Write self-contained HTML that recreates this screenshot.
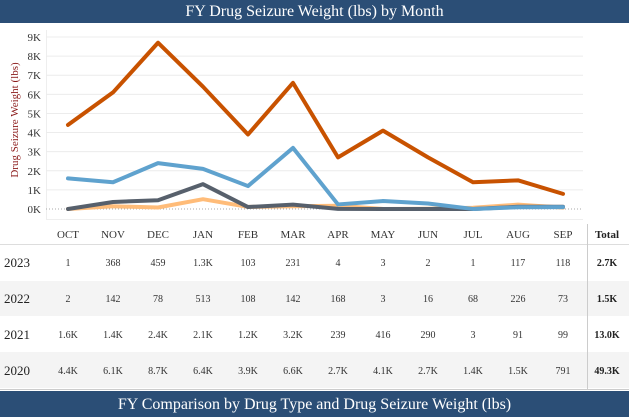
<!DOCTYPE html>
<html><head><meta charset="utf-8"><style>
body{margin:0;width:629px;height:417px;overflow:hidden;background:#fff;font-family:"Liberation Serif",serif;}
.bar{position:absolute;left:0;width:629px;background:#2b4e76;color:#fff;text-align:center;font-size:16px;}
</style></head><body>
<div class="bar" style="top:0;height:23px;line-height:23px;">FY Drug Seizure Weight (lbs) by Month</div>
<svg id="c" width="629" height="417" style="position:absolute;left:0;top:0"></svg>
<div class="bar" style="top:391px;height:26px;line-height:28px;">FY Comparison by Drug Type and Drug Seizure Weight (lbs)</div>
<script>
const months=["OCT","NOV","DEC","JAN","FEB","MAR","APR","MAY","JUN","JUL","AUG","SEP"];
const years=["2023","2022","2021","2020"];
const v2023=[1,368,459,1300,103,231,4,3,2,1,117,118];
const v2022=[2,142,78,513,108,142,168,3,16,68,226,73];
const v2021=[1600,1400,2400,2100,1200,3200,239,416,290,3,91,99];
const v2020=[4400,6100,8700,6400,3900,6600,2700,4100,2700,1400,1500,791];
const labels2023=["1","368","459","1.3K","103","231","4","3","2","1","117","118"];
const labels2022=["2","142","78","513","108","142","168","3","16","68","226","73"];
const labels2021=["1.6K","1.4K","2.4K","2.1K","1.2K","3.2K","239","416","290","3","91","99"];
const labels2020=["4.4K","6.1K","8.7K","6.4K","3.9K","6.6K","2.7K","4.1K","2.7K","1.4K","1.5K","791"];
const totals=["2.7K","1.5K","13.0K","49.3K"];
const yTicks=[0,1000,2000,3000,4000,5000,6000,7000,8000,9000];
const svg=document.getElementById('c');const NS="http://www.w3.org/2000/svg";
const x=i=>68+i*45, y=v=>209-v*(172/9000);
function el(t,a,p){const e=document.createElementNS(NS,t);for(const k in a)e.setAttribute(k,a[k]);(p||svg).appendChild(e);return e;}
// shaded rows
[[281,316],[352,388]].forEach((r,i)=>{const e=el('rect',{x:0,y:r[0],width:629,height:r[1]-r[0],fill:'#f4f4f4'});

});
el('line',{x1:0,x2:629,y1:244.5,y2:244.5,stroke:'#ddd'});
el('line',{x1:0,x2:629,y1:389.5,y2:389.5,stroke:'#ccc'});
el('line',{x1:587.5,x2:587.5,y1:224,y2:389,stroke:'#ccc'});
el('line',{x1:46.5,x2:46.5,y1:30,y2:220,stroke:'#eee'});
el('line',{x1:46,x2:583,y1:219.5,y2:219.5,stroke:'#eee'});
yTicks.forEach(t=>{
 if(t>0)el('line',{x1:46,x2:583,y1:y(t),y2:y(t),stroke:'#ececec'});
 else el('line',{x1:46,x2:583,y1:y(t),y2:y(t),stroke:'#aaa','stroke-dasharray':'1,2'});
 const tx=el('text',{x:41,y:y(t)+4,'text-anchor':'end','font-size':11,fill:'#333'});tx.textContent=(t/1000)+'K';
 
 
});
const yt=el('text',{transform:'translate(18,120) rotate(-90)','text-anchor':'middle','font-size':11,fill:'#8b1a1a'});yt.textContent='Drug Seizure Weight (lbs)';


const series=[[v2022,'#ffbc79','line-2022'],[v2023,'#57606c','line-2023'],[v2021,'#5fa2ce','line-2021'],[v2020,'#c85200','line-2020']];
series.forEach(s=>{const p=el('polyline',{points:s[0].map((v,i)=>x(i)+','+y(v)).join(' '),fill:'none',stroke:s[1],'stroke-width':4,'stroke-linejoin':'round','stroke-linecap':'round'});

});
months.forEach((m,i)=>{const t=el('text',{x:x(i),y:238,'text-anchor':'middle','font-size':11,fill:'#333'});t.textContent=m;

});
const th=el('text',{x:607,y:238,'text-anchor':'middle','font-size':11,'font-weight':'bold',fill:'#222'});th.textContent='Total';


const rowsL=[labels2023,labels2022,labels2021,labels2020];const rowY=[266,302,338,374];
rowsL.forEach((L,r)=>{
 const yl=el('text',{x:4,y:rowY[r]+1,'font-size':13,fill:'#222'});yl.textContent=years[r];
 
 
 L.forEach((s,i)=>{const t=el('text',{x:x(i),y:rowY[r],'text-anchor':'middle','font-size':10,fill:'#333'});t.textContent=s;
 
 });
 const tt=el('text',{x:607,y:rowY[r],'text-anchor':'middle','font-size':10,'font-weight':'bold',fill:'#222'});tt.textContent=totals[r];
 
 
});
</script>
</body></html>
